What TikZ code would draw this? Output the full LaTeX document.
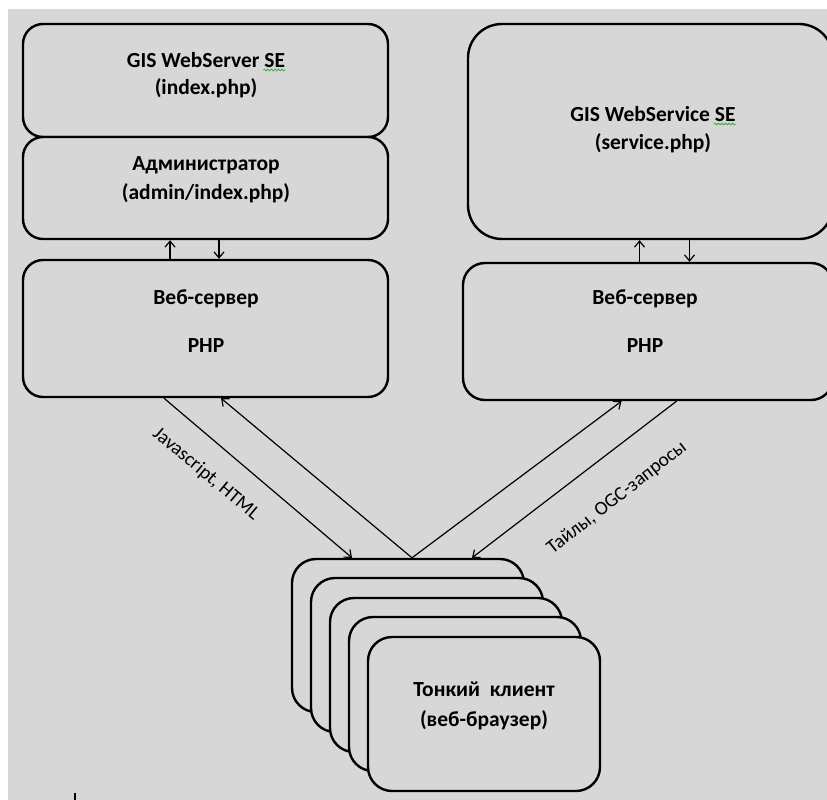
\documentclass[tikz,border=0pt]{standalone}
\usepackage{fontspec}
\setmainfont{Carlito}
\usetikzlibrary{arrows.meta,decorations.pathmorphing,fit}
\definecolor{bg}{RGB}{215,215,215}
\definecolor{squig}{RGB}{60,170,60}
\begin{document}
\begin{tikzpicture}[x=1pt,y=-1pt,
  box/.style={draw=black, line width=2.4pt, fill=bg, rectangle, inner sep=0pt, rounded corners=20pt},
  txt/.style={anchor=base, inner sep=0pt, font=\fontsize{21.5}{25}\selectfont\bfseries},
  lbl/.style={inner sep=0pt, font=\fontsize{19.5}{22}\selectfont},
  arr/.style={line width=1.2pt, -{Straight Barb[length=6pt,width=10pt,line width=1.2pt]}},
  wavy/.style={draw=squig, line width=0.8pt, decorate, decoration={snake, amplitude=0.9pt, segment length=3.5pt}}]
\useasboundingbox (0,0) rectangle (827,800);
\fill[white] (0,0) rectangle (827,800);
\fill[bg] (8,9) rectangle (827,800);

% left column
\node[box, fit={(23,24) (388,137)}] (L1) {};
\node[box, fit={(23,137) (388,239)}] (L2) {};
\node[box, fit={(23,260) (388,397)}] (L3) {};
% right column
\node[box, rounded corners=34pt, fit={(468,24) (833,239)}] (R1) {};
\node[box, rounded corners=22pt, fit={(463,263) (833,400)}] (R2) {};
% client stack
\node[box, rounded corners=24pt, fit={(292,559) (524,712)}] (C1) {};
\node[box, rounded corners=24pt, fit={(311,578) (543,732)}] (C2) {};
\node[box, rounded corners=24pt, fit={(330,598) (562,752)}] (C3) {};
\node[box, rounded corners=24pt, fit={(349,617) (581,771)}] (C4) {};
\node[box, rounded corners=24pt, fit={(368,637) (600,791)}] (C5) {};

% texts
\node[txt] (t1) at (206,67) {GIS WebServer SE};
\node[txt] (t2) at (206,95) {(index.php)};
\node[txt] (t3) at (206,170) {Администратор};
\node[txt] (t4) at (206,199) {(admin/index.php)};
\node[txt] (t5) at (206,304) {Веб-сервер};
\node[txt] (t6) at (206,352) {PHP};
\node[txt] (t7) at (653,121) {GIS WebService SE};
\node[txt] (t8) at (653,149) {(service.php)};
\node[txt] (t9) at (645,304) {Веб-сервер};
\node[txt] (t10) at (645,352) {PHP};
\node[txt] (t11) at (484,696) {Тонкий\ \ клиент};
\node[txt] (t12) at (484,726) {(веб-браузер)};

% spell-check squiggles
\draw[wavy] ([xshift=-22pt,yshift=-3pt]t1.base east) -- ([yshift=-3pt]t1.base east);
\draw[wavy] ([xshift=-22pt,yshift=-3pt]t7.base east) -- ([yshift=-3pt]t7.base east);

% vertical arrows
\coordinate (u1) at ([xshift=-35.5pt]L2.south);
\coordinate (d1) at ([xshift=13.5pt]L3.north);
\coordinate (u2) at ([xshift=-11pt]R1.south);
\coordinate (d2) at ([xshift=41.5pt]R2.north);
\draw[arr] (L3.north -| u1) -- (u1);
\draw[arr] (L2.south -| d1) -- (d1);
\draw[arr] (R2.north -| u2) -- (u2);
\draw[arr] (R1.south -| d2) -- (d2);

% diagonal arrows
\coordinate (a1) at ([xshift=-41.5pt]L3.south);
\coordinate (a2) at ([xshift=15.5pt]L3.south);
\coordinate (b1) at ([xshift=-26.5pt]R2.south);
\coordinate (b2) at ([xshift=28.5pt]R2.south);
\coordinate (c1) at ([xshift=-56pt]C1.north);
\coordinate (c0) at ([xshift=4pt]C1.north);
\coordinate (c2) at ([xshift=64pt]C1.north);
\draw[arr] (a1) -- (c1);
\draw[arr] (c0) -- (a2);
\draw[arr] (c0) -- (b1);
\draw[arr] (b2) -- (c2);

% labels
\node[lbl, rotate=-40] (lab1) at (206,474) {Javascript, HTML};
\node[lbl, rotate=38] (lab2) at (617,498) {Тайлы, OGC-запросы};

% text cursor
\draw[line width=1.5pt] (75,793) -- (75,800);
\end{tikzpicture}
\end{document}
